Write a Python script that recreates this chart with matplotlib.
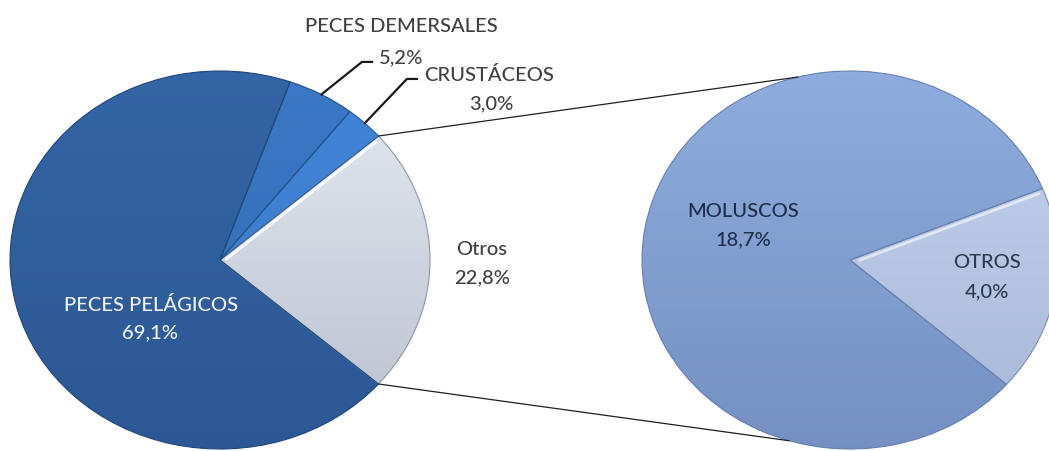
import numpy as np
import matplotlib
matplotlib.use("Agg")
import matplotlib.pyplot as plt
from matplotlib.colors import LinearSegmentedColormap
from matplotlib.patches import ConnectionPatch

# ---- data ----
main_labels = ["Otros", "CRUSTÁCEOS", "PECES DEMERSALES", "PECES PELÁGICOS"]
main_values = [22.8, 3.0, 5.2, 69.1]
main_pct = ["22,8%", "3,0%", "5,2%", "69,1%"]

sub_labels = ["OTROS", "MOLUSCOS"]
sub_values = [4.0, 18.7]
sub_pct = ["4,0%", "18,7%"]

# ---- style ----
plt.rcParams["font.family"] = ["Lato", "DejaVu Sans"]
W, H = 1049, 452
fig = plt.figure(figsize=(W / 100, H / 100), dpi=100)
fig.patch.set_facecolor("white")

# overlay axes in pixel coordinates (for text placement)
ov = fig.add_axes([0, 0, 1, 1])
ov.set_xlim(0, W)
ov.set_ylim(H, 0)
ov.axis("off")


def pie_axes(cx, cy, rx, ry):
    ax = fig.add_axes([(cx - rx) / W, (H - cy - ry) / H, 2 * rx / W, 2 * ry / H])
    return ax


def finish(ax):
    ax.set_aspect("auto")
    ax.set_xlim(-1, 1)
    ax.set_ylim(-1, 1)
    ax.axis("off")


def gradient_fill(ax, wedge, top, bottom, z):
    cmap = LinearSegmentedColormap.from_list("g", [bottom, top])
    grad = np.linspace(0, 1, 256).reshape(-1, 1)
    im = ax.imshow(grad, extent=[-1.05, 1.05, -1.05, 1.05], origin="lower",
                   cmap=cmap, aspect="auto", zorder=z, interpolation="bilinear")
    im.set_clip_path(wedge)


# ---- left (main) pie ----
axL = pie_axes(220, 261, 210, 189)
total = sum(main_values)
start_L = -main_values[0] / total * 360 / 2
wedgesL, _ = axL.pie(main_values, startangle=start_L, counterclock=True,
                     radius=1.0, center=(0, 0),
                     wedgeprops=dict(linewidth=0.8, edgecolor="#234a7a"))
finish(axL)
colorsL = [("#e6ebf5", "#b8bfcb"), ("#4286d8", "#3876c4"),
           ("#3c79c6", "#3169b0"), ("#3465a6", "#2b5893")]
edgesL = ["#8f98a8", "#2a5a98", "#24508a", "#1f4677"]
for w, (t, b), e in zip(wedgesL, colorsL, edgesL):
    gradient_fill(axL, w, t, b, 2)
    w.set_facecolor("none")
    w.set_edgecolor(e)
    w.set_zorder(3)
# bevel highlight along the Otros upper edge
wO = wedgesL[0]
th = np.deg2rad(wO.theta2)
axL.plot([0.04 * np.cos(th), 0.98 * np.cos(th)],
         [0.04 * np.sin(th) - 0.02, 0.98 * np.sin(th) - 0.02],
         color="white", lw=2.2, alpha=0.85, zorder=4, solid_capstyle="round")

# ---- right (sub) pie ----
axR = pie_axes(850, 261, 208, 189)
start_R = -41.2
wedgesR, _ = axR.pie(sub_values, startangle=start_R, counterclock=True,
                     radius=1.0, center=(0, 0),
                     wedgeprops=dict(linewidth=0.8, edgecolor="#5f7aa8"))
finish(axR)
colorsR = [("#c6d4ee", "#a5b7d6"), ("#8fadde", "#7490c2")]
edgesR = ["#7a8fb4", "#6580ae"]
for w, (t, b), e in zip(wedgesR, colorsR, edgesR):
    gradient_fill(axR, w, t, b, 2)
    w.set_facecolor("none")
    w.set_edgecolor(e)
    w.set_zorder(3)
wO2 = wedgesR[0]
th2 = np.deg2rad(wO2.theta2)
axR.plot([0.05 * np.cos(th2), 0.98 * np.cos(th2)],
         [0.05 * np.sin(th2) - 0.02, 0.98 * np.sin(th2) - 0.02],
         color="white", lw=2.0, alpha=0.6, zorder=4, solid_capstyle="round")

# ---- connector lines (Otros wedge edges -> sub pie) ----
for ang_left, ang_right in [(wO.theta2, 104.5), (wO.theta1, 253.0)]:
    a1, a2 = np.deg2rad(ang_left), np.deg2rad(ang_right)
    con = ConnectionPatch(xyA=(np.cos(a1), np.sin(a1)), coordsA=axL.transData,
                          xyB=(np.cos(a2), np.sin(a2)), coordsB=axR.transData,
                          color="#202020", lw=0.9, zorder=1)
    fig.add_artist(con)

# ---- leader lines for small wedges ----
txt_col = "#404040"
for w, elbow, end in [(wedgesL[2], (0.676, 1.048), (0.724, 1.048)),
                      (wedgesL[1], (0.890, 0.958), (0.938, 0.958))]:
    mid = np.deg2rad((w.theta1 + w.theta2) / 2)
    axL.plot([np.cos(mid), elbow[0], end[0]], [np.sin(mid), elbow[1], end[1]],
             color="#1a1a1a", lw=1.6, clip_on=False, zorder=5)

# ---- labels ----
fs = 14.5
kw = dict(ha="center", va="center", fontsize=fs, fontweight="medium")
ov.text(401, 27, main_labels[2], color=txt_col, **kw)
ov.text(401, 58, main_pct[2], color=txt_col, **kw)
ov.text(489, 75, main_labels[1], color=txt_col, **kw)
ov.text(491, 104, main_pct[1], color=txt_col, **kw)
ov.text(482, 250, main_labels[0], color=txt_col, **kw)
ov.text(482, 278, main_pct[0], color=txt_col, **kw)
ov.text(151, 305, main_labels[3], color="#eef2f8", **kw)
ov.text(150, 333, main_pct[3], color="#eef2f8", **kw)
ov.text(743, 212, sub_labels[1], color="#1e2d4a", **kw)
ov.text(743, 240, sub_pct[1], color="#1e2d4a", **kw)
ov.text(987, 263, sub_labels[0], color="#2e3a4e", **kw)
ov.text(987, 292, sub_pct[0], color="#2e3a4e", **kw)
ov.set_zorder(10)
ov.patch.set_alpha(0)

fig.savefig("out.png", dpi=100, facecolor="white")
